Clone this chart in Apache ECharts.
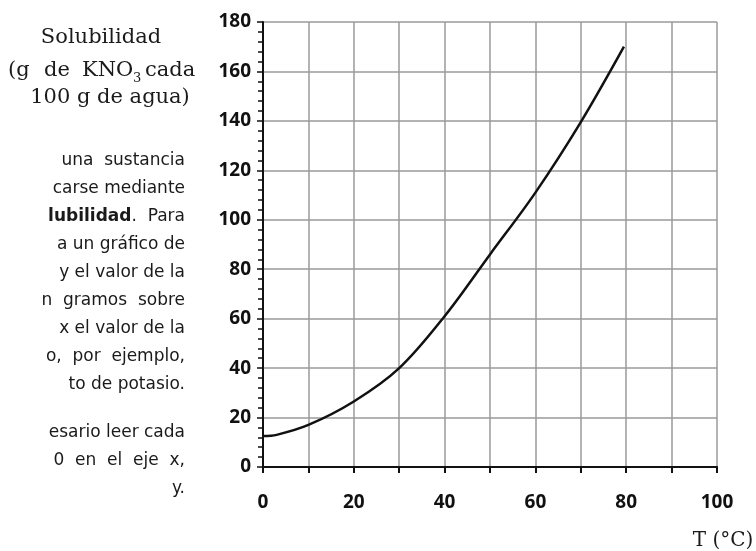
<!DOCTYPE html>
<html>
<head>
<meta charset="utf-8">
<script src="https://cdn.jsdelivr.net/npm/echarts@6/dist/echarts.min.js"></script>
<style>
  html, body { margin: 0; padding: 0; background: #fff; }
  #chart { width: 756px; height: 551px; }
</style>
</head>
<body>
<div id="chart"></div>
<script>
// temperature (°C) and KNO3 solubility (g per 100 g water)
const temps = [0, 3, 10, 20, 30, 40, 50, 60, 70, 79.5]
const solubility = [12.5, 13, 17, 26.5, 40, 61, 86, 111, 139.5, 170]

const xTicks = [0, 20, 40, 60, 80, 100]
const yTicks = [0, 20, 40, 60, 80, 100, 120, 140, 160, 180]

// cut-off body text on the left of the figure ('' = paragraph break)
const bodyLines = [
  'una  sustancia',
  'carse mediante',
  '{b|lubilidad}.  Para',
  'a un gráfico de',
  'y el valor de la',
  'n  gramos  sobre',
  'x el valor de la',
  'o,  por  ejemplo,',
  'to de potasio.',
  '',
  'esario leer cada',
  '0  en  el  eje  x,',
  'y.'
]

const chart = echarts.init(document.getElementById('chart'))

const sans = 'DejaVu Sans'
const serif = 'DejaVu Serif'
const ink = '#1a1a1a'

const bodyText = []
let lineY = 161
bodyLines.forEach((line) => {
  if (line) {
    bodyText.push({
      type: 'text',
      x: 185,
      y: lineY,
      style: {
        text: line,
        fill: ink,
        font: '17px "' + sans + '"',
        textAlign: 'right',
        textVerticalAlign: 'middle',
        rich: { b: { fontWeight: 'bold', fontSize: 17, fontFamily: sans, fill: ink } }
      }
    })
  }
  lineY += line ? 28 : 20
})

function serifText(text, x, y, align, size) {
  return {
    type: 'text',
    x: x,
    y: y,
    style: {
      text: text,
      fill: ink,
      font: (size || 21) + 'px "' + serif + '"',
      textAlign: align || 'left',
      textVerticalAlign: 'middle'
    }
  }
}

chart.setOption({
  animation: false,
  grid: { left: 263, right: 39, top: 22, bottom: 84 },
  xAxis: {
    type: 'value',
    min: 0,
    max: 100,
    interval: 10,
    axisLine: { lineStyle: { color: '#111', width: 2 } },
    axisTick: { show: true, length: 6, lineStyle: { color: '#111', width: 2 } },
    axisLabel: {
      margin: 26,
      color: '#111',
      fontFamily: 'Noto Sans',
      fontWeight: 'bold',
      fontSize: 19,
      formatter: (v) => (xTicks.includes(v) ? String(v) : '')
    },
    splitLine: { show: true, lineStyle: { color: '#9a9a9a', width: 1.5 } }
  },
  yAxis: {
    type: 'value',
    min: 0,
    max: 180,
    interval: 20,
    axisLine: { show: true, lineStyle: { color: '#111', width: 2 } },
    axisTick: { show: true, length: 6, lineStyle: { color: '#111', width: 1.5 } },
    minorTick: { show: true, splitNumber: 5, length: 5, lineStyle: { color: '#111', width: 1.5 } },
    axisLabel: {
      margin: 12,
      color: '#111',
      fontFamily: 'Noto Sans',
      fontWeight: 'bold',
      fontSize: 19,
      formatter: (v) => (yTicks.includes(v) ? String(v) : '')
    },
    splitLine: { show: true, lineStyle: { color: '#9a9a9a', width: 1.5 } }
  },
  series: [
    {
      type: 'line',
      smooth: 0.35,
      symbol: 'none',
      lineStyle: { color: '#111', width: 2.5 },
      data: temps.map((t, i) => [t, solubility[i]])
    }
  ],
  graphic: [
    serifText('Solubilidad', 101, 38, 'center'),
    serifText('(g', 8, 71),
    serifText('de', 44, 71),
    serifText('KNO', 82, 71, 'left', 21),
    serifText('3', 133, 79, 'left', 13),
    serifText('cada', 145, 71),
    serifText('100 g de agua)', 110, 98, 'center'),
    serifText('T (°C)', 723, 541, 'center', 20),
    ...bodyText
  ]
})
</script>
</body>
</html>
